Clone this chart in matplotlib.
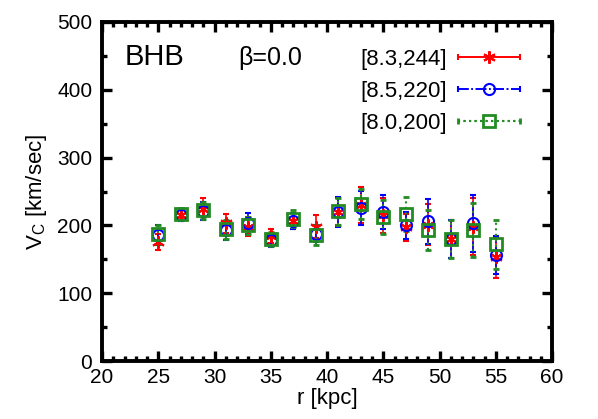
import matplotlib
matplotlib.use("Agg")
import numpy as np
import matplotlib.pyplot as plt
from matplotlib.ticker import MultipleLocator
from matplotlib.container import ErrorbarContainer
from matplotlib.legend_handler import HandlerErrorbar

plt.rcParams['font.family'] = ['Liberation Sans', 'DejaVu Sans']

# radial bins (kpc)
r = [25, 27, 29, 31, 33, 35, 37, 39, 41, 43, 45, 47, 49, 51, 53, 55]

# [R0, Vc0] = [8.3, 244]
vc_a = [175, 216, 224, 203, 198, 184, 206, 198, 220, 230, 215, 197, 201, 180, 198, 153]
err_a = [12, 8, 16, 14, 14, 10, 12, 17, 20, 26, 26, 20, 30, 28, 42, 30]
# [8.5, 220]
vc_b = [186, 215, 221, 193, 203, 178, 207, 188, 220, 226, 220, 200, 206, 180, 203, 156]
err_b = [15, 8, 13, 14, 16, 10, 12, 13, 22, 25, 25, 20, 33, 28, 42, 28]
# [8.0, 200]
vc_c = [187, 217, 222, 194, 200, 180, 210, 186, 221, 232, 213, 217, 193, 180, 193, 172]
err_c = [14, 8, 13, 14, 13, 10, 12, 15, 20, 22, 25, 25, 30, 28, 40, 36]

labels = ['[8.3,244]', '[8.5,220]', '[8.0,200]']

fig = plt.figure(figsize=(5.98, 4.19), dpi=100)
ax = fig.add_axes([0.1706, 0.1384, 0.7525, 0.8091])

styles = [
    dict(color='red', ls='-', marker=(6, 2, 0), mfc='red', ms=9, mew=1.5, lw=1.2),
    dict(color='blue', ls='-.', marker='o', mfc='none', ms=8, mew=1.5, lw=1.2),
    dict(color='#228b22', ls=':', marker='s', mfc='none', ms=9, mew=2, lw=1.5),
]
series = [(vc_a, err_a), (vc_b, err_b), (vc_c, err_c)]

handles = []
for (vc, err), st, lab in zip(series, styles, labels):
    c = ax.errorbar(r, vc, yerr=err, color=st['color'], ls='none', marker=st['marker'],
                    mfc=st['mfc'], ms=st['ms'], mew=st['mew'], capsize=2.5,
                    elinewidth=st['lw'], capthick=st['lw'])
    c[2][0].set_linestyle(st['ls'])
    # proxy for the legend: horizontal bar with caps like gnuplot keys
    h = ax.errorbar([np.nan], [np.nan], xerr=[1.0], color=st['color'], ls=st['ls'],
                    lw=st['lw'], marker=st['marker'], mfc=st['mfc'], ms=st['ms'],
                    mew=st['mew'], capsize=2.5, elinewidth=st['lw'], capthick=st['lw'])
    h[2][0].set_linestyle(st['ls'])
    handles.append(h)

ax.set_xlim(20, 60)
ax.set_ylim(0, 500)
ax.xaxis.set_major_locator(MultipleLocator(5))
ax.xaxis.set_minor_locator(MultipleLocator(1))
ax.yaxis.set_major_locator(MultipleLocator(100))
ax.yaxis.set_minor_locator(MultipleLocator(50))
ax.tick_params(which='both', direction='in', top=True, right=True, width=2.4, labelsize=15)
ax.tick_params(which='major', length=7)
ax.tick_params(which='minor', length=3.5)
ax.tick_params(axis='x', pad=5)
ax.tick_params(axis='y', pad=7)
for s in ax.spines.values():
    s.set_linewidth(2.8)

ax.set_xlabel('r [kpc]', fontsize=16, labelpad=1)
ax.set_ylabel(r'V$_\mathregular{C}$ [km/sec]', fontsize=16, labelpad=6)

ax.text(0.051, 0.873, 'BHB', transform=ax.transAxes, fontsize=21, va='baseline')
ax.text(0.302, 0.873, 'β=0.0', transform=ax.transAxes, fontsize=18, va='baseline')

hl = 2.8
ax.legend(handles, labels, loc='upper right', bbox_to_anchor=(0.949, 0.947),
          borderaxespad=0, markerfirst=False, frameon=False, fontsize=16,
          handlelength=hl, labelspacing=0.5, handletextpad=0.5,
          handler_map={ErrorbarContainer: HandlerErrorbar(xerr_size=hl / 2, numpoints=1)})

fig.savefig('out.png', dpi=100)
